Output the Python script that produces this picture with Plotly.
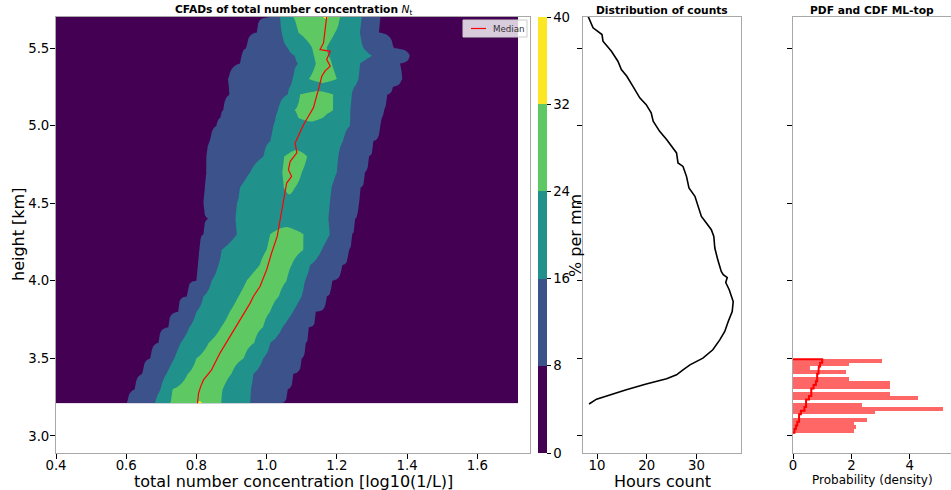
import numpy as np
import plotly.graph_objects as go

# ---------------- data ----------------
# CFAD: per-height boundaries (log10(1/L)) between the filled levels 0-8-16-24-32-40 (% per mm)
cfad_heights = [3.21, 3.3, 3.4, 3.5, 3.6, 3.7, 3.8, 3.9, 4.0, 4.1, 4.2, 4.3, 4.4, 4.5, 4.6,
                4.7, 4.8, 4.9, 5.0, 5.05, 5.1, 5.2, 5.25, 5.3, 5.4, 5.45, 5.5, 5.6, 5.70]
edge_l8 = [0.603, 0.625, 0.647, 0.670, 0.692, 0.720, 0.748, 0.775, 0.800, 0.805, 0.810, 0.820, 0.834,
           0.820, 0.824, 0.829, 0.829, 0.839, 0.858, 0.868, 0.877, 0.895, 0.893, 0.891, 0.924, 0.930,
           0.943, 0.972, 1.010]
edge_l16 = [0.682, 0.698, 0.715, 0.737, 0.755, 0.780, 0.800, 0.820, 0.843, 0.862, 0.872, 0.915, 0.910,
            0.915, 0.924, 0.953, 0.991, 1.010, 1.019, 1.026, 1.033, 1.060, 1.067, 1.075, 1.090, 1.080,
            1.060, 1.043, 1.038]
edge_l24 = [0.725, 0.732, 0.775, 0.800, 0.835, 0.870, 0.895, 0.920, 0.943, 0.980, 1.000, 1.010, None,
            None, 1.050, 1.045, 1.050, None, None, 1.090, 1.080, 1.095, None, 1.120, 1.140, 1.135,
            1.130, 1.090, 1.076]
edge_r24 = [0.870, 0.875, 0.900, 0.935, 0.965, 0.990, 1.010, 1.035, 1.057, 1.071, 1.105, 1.105, None,
            None, 1.080, 1.100, 1.115, None, None, 1.160, 1.190, 1.190, None, 1.200, 1.185, 1.175,
            1.170, 1.195, 1.209]
edge_r16 = [0.953, 0.955, 0.962, 0.990, 1.010, 1.045, 1.075, 1.100, 1.109, 1.124, 1.157, 1.180, 1.176,
            1.180, 1.185, 1.200, 1.204, 1.218, 1.238, 1.238, 1.238, 1.242, 1.250, 1.261, 1.266, 1.300,
            1.276, 1.266, 1.271]
edge_r8 = [1.040, 1.060, 1.075, 1.100, 1.110, 1.120, 1.140, 1.170, 1.185, 1.214, 1.233, 1.242, 1.252,
           1.261, 1.266, 1.280, 1.290, 1.304, 1.323, 1.328, 1.333, 1.342, 1.360, 1.385, 1.380, 1.408,
           1.361, 1.318, 1.323]
yellow_h = [3.21, 5.70]
yellow_x = [0.81, 1.17]
cfad_levels = [0, 8, 16, 24, 32, 40]

# median profile
median_h = [5.705, 5.606, 5.533, 5.490, 5.479, 5.426, 5.383, 5.351, 5.318, 5.254, 5.189, 5.114, 5.060,
            5.006, 4.931, 4.888, 4.824, 4.770, 4.716, 4.673, 4.630, 4.544, 4.458, 4.372, 4.286, 4.179,
            4.071, 3.963, 3.899, 3.856, 3.748, 3.641, 3.534, 3.426, 3.361, 3.318, 3.275, 3.211]
median_x = [1.171, 1.166, 1.162, 1.152, 1.181, 1.171, 1.181, 1.166, 1.157, 1.150, 1.143, 1.133, 1.119,
            1.105, 1.090, 1.081, 1.086, 1.067, 1.062, 1.071, 1.057, 1.050, 1.043, 1.038, 1.030, 1.014,
            1.000, 0.981, 0.962, 0.953, 0.924, 0.896, 0.867, 0.843, 0.820, 0.812, 0.806, 0.803]

# distribution of counts
count_h = [5.705, 5.630, 5.587, 5.544, 5.479, 5.415, 5.361, 5.318, 5.254, 5.179, 5.135, 5.082, 5.028,
           4.963, 4.910, 4.866, 4.824, 4.759, 4.737, 4.673, 4.598, 4.544, 4.490, 4.415, 4.372, 4.329,
           4.286, 4.211, 4.135, 4.060, 4.039, 4.021, 3.989, 3.942, 3.866, 3.802, 3.737, 3.673, 3.619,
           3.555, 3.501, 3.479, 3.458, 3.426, 3.394, 3.368, 3.335, 3.297, 3.258, 3.237, 3.206]
count_v = [8.2, 9.2, 11.0, 11.2, 12.9, 14.2, 14.9, 16.0, 17.2, 18.6, 19.9, 20.9, 21.3,
           22.6, 24.0, 25.0, 26.0, 26.3, 27.3, 28.0, 28.5, 29.7, 30.3, 31.0, 32.0, 33.0,
           33.5, 33.7, 34.3, 35.0, 35.4, 36.2, 35.9, 36.6, 37.4, 37.2, 36.4, 35.7, 34.7,
           33.3, 31.3, 30.0, 28.7, 27.3, 26.0, 24.0, 19.9, 15.9, 11.9, 9.9, 8.4]

# ML-top histogram (density)
ml_edges = [3.021, 3.045, 3.068, 3.092, 3.116, 3.140, 3.163, 3.187, 3.211, 3.234, 3.258,
            3.282, 3.305, 3.329, 3.353, 3.377, 3.400, 3.424, 3.448, 3.471, 3.495]
ml_pdf = [2.09, 2.17, 2.09, 2.52, 0.0, 2.80, 5.14, 2.36, 0.0, 4.28, 3.31, 0.0, 3.31, 3.31, 1.92,
          0.0, 1.83, 0.59, 1.92, 3.06]

# ---------------- layout helpers ----------------
W, H = 951, 490
FONT = "DejaVu Sans"


def fx(p):
    return p / W


def fy(p):
    return 1 - p / H


# ---------------- build CFAD grid ----------------
xgrid = np.arange(0.38, 1.7165, 0.004)
Z = []
for i, h in enumerate(cfad_heights):
    xs = [0.30, edge_l8[i], edge_l16[i]]
    zs = [2, 8, 16]
    if edge_l24[i] is not None:
        if h in yellow_h:
            pk_x, pk_z = yellow_x[yellow_h.index(h)], 33
        else:
            pk_x, pk_z = (edge_l24[i] + edge_r24[i]) / 2, 28
        xs += [edge_l24[i], pk_x, edge_r24[i]]
        zs += [24, pk_z, 24]
    else:
        xs += [(edge_l16[i] + edge_r16[i]) / 2]
        zs += [20]
    xs += [edge_r16[i], edge_r8[i], 1.80]
    zs += [16, 8, 2]
    Z.append(np.interp(xgrid, xs, zs))
Z = np.array(Z)

viridis5 = ["#440154", "#3b528b", "#21918c", "#5ec962", "#fde725"]
cs = []
for k, c in enumerate(viridis5):
    cs.append([k / 5, c])
    cs.append([(k + 1) / 5, c])

fig = go.Figure()

fig.add_trace(go.Contour(
    x=xgrid, y=cfad_heights, z=Z, zmin=0, zmax=40, autocontour=False,
    contours=dict(start=cfad_levels[0], end=cfad_levels[-1], size=8, coloring="fill", showlines=False),
    line=dict(width=0, smoothing=0), colorscale=cs, hoverinfo="skip", showlegend=False,
    colorbar=dict(x=fx(538), xanchor="left", xpad=0, ypad=0, y=(fy(453) + fy(17)) / 2, yanchor="middle",
                  len=(453 - 17) / H, lenmode="fraction", thickness=9, outlinewidth=0,
                  tickvals=cfad_levels, ticks="outside", ticklen=4, tickcolor="black",
                  tickfont=dict(family=FONT, size=13.3, color="black")),
    xaxis="x", yaxis="y"))

fig.add_trace(go.Scatter(x=median_x, y=median_h, mode="lines", name="Median", showlegend=False,
                         line=dict(color="red", width=1.2), xaxis="x", yaxis="y"))

fig.add_trace(go.Scatter(x=count_v, y=count_h, mode="lines", showlegend=False,
                         line=dict(color="black", width=1.6), xaxis="x2", yaxis="y2"))

ml_centers = [(ml_edges[i] + ml_edges[i + 1]) / 2 for i in range(len(ml_pdf))]
ml_width = [ml_edges[i + 1] - ml_edges[i] for i in range(len(ml_pdf))]
fig.add_trace(go.Bar(x=ml_pdf, y=ml_centers, width=ml_width, orientation="h",
                     marker=dict(color="rgba(255,0,0,0.6)", line=dict(width=0)),
                     showlegend=False, xaxis="x3", yaxis="y3"))

mass = np.array(ml_pdf) * np.array(ml_width)
cdf = np.cumsum(mass) / mass.sum()
sx, sy = [0.0], [ml_edges[0]]
for i, c in enumerate(cdf):
    sx += [c, c]
    sy += [ml_edges[i], ml_edges[i + 1]]
sx.append(0.0)
sy.append(ml_edges[-1])
fig.add_trace(go.Scatter(x=sx, y=sy, mode="lines", showlegend=False,
                         line=dict(color="red", width=2), xaxis="x3", yaxis="y3"))

# ---------------- axes ----------------
ydom = [fy(453), fy(17)]
yrange = [2.89, 5.70]
ytick = [3.0, 3.5, 4.0, 4.5, 5.0, 5.5]
tickfont = dict(family=FONT, size=13.3, color="black")
common = dict(showgrid=False, zeroline=False, showline=True, linecolor="#a8a8a8", linewidth=1,
              ticks="outside", ticklen=5, tickwidth=1, tickcolor="black", tickfont=tickfont,
              automargin=False)

fig.update_layout(
    width=W, height=H, margin=dict(l=0, r=0, t=0, b=0, autoexpand=False),
    paper_bgcolor="white", plot_bgcolor="white",
    font=dict(family=FONT, color="black"),
    showlegend=False,
    xaxis=dict(domain=[fx(56), fx(530)], range=[0.4, 1.75], anchor="y", mirror=True,
               tickvals=[0.4, 0.6, 0.8, 1.0, 1.2, 1.4, 1.6], ticklabelstandoff=-5,
               ticktext=["0.4", "0.6", "0.8", "1.0", "1.2", "1.4", "1.6"], **common),
    yaxis=dict(domain=ydom, range=yrange, anchor="x", mirror=True, ticklabelstandoff=-2,
               tickvals=ytick, ticktext=["3.0", "3.5", "4.0", "4.5", "5.0", "5.5"], **common),
    xaxis2=dict(domain=[fx(583), fx(741)], range=[7.18, 38.97], anchor="y2", mirror=True,
                tickvals=[10, 20, 30], ticklabelstandoff=-5, **common),
    yaxis2=dict(domain=ydom, range=yrange, anchor="x2", mirror=True,
                tickvals=ytick, showticklabels=False, **common),
    xaxis3=dict(domain=[fx(793), 1.0], range=[0, 5.41], anchor="y3", mirror=True,
                tickvals=[0, 2, 4], ticklabelstandoff=-5, **common),
    yaxis3=dict(domain=ydom, range=yrange, anchor="x3", mirror=False,
                tickvals=ytick, showticklabels=False, **common),
    bargap=0,
)

# legend box for the median line (drawn in pixel positions of the main panel)
fig.add_shape(type="rect", xref="paper", yref="paper", x0=fx(463), x1=fx(527), y0=fy(37), y1=fy(20),
              fillcolor="rgba(255,255,255,0.8)", line=dict(color="#cccccc", width=1), layer="above")
fig.add_shape(type="line", xref="paper", yref="paper", x0=fx(471), x1=fx(486), y0=fy(28.5), y1=fy(28.5),
              line=dict(color="red", width=1.2), layer="above")

ann = [
    dict(text="<b>CFADs of total number concentration</b> <i>N</i><sub>t</sub>", x=fx(293), y=fy(10),
         font=dict(size=10.7)),
    dict(text="<b>Distribution of counts</b>", x=fx(662), y=fy(10), font=dict(size=10.7)),
    dict(text="<b>PDF and CDF ML-top</b>", x=fx(872), y=fy(10), font=dict(size=10.7)),
    dict(text="total number concentration [log10(1/L)]", x=fx(293), y=fy(481), font=dict(size=16)),
    dict(text="Hours count", x=fx(662), y=fy(481), font=dict(size=16)),
    dict(text="Probability (density)", x=fx(872), y=fy(480), font=dict(size=12)),
    dict(text="height [km]", x=fx(18), y=fy(235), font=dict(size=16), textangle=-90),
    dict(text="% per mm", x=fx(575), y=fy(236), font=dict(size=16), textangle=-90),
]
for a in ann:
    a.update(xref="paper", yref="paper", showarrow=False, xanchor="center", yanchor="middle")
    a["font"] = dict(family=FONT, color="black", **a["font"])
    fig.add_annotation(**a)

fig.add_annotation(text="Median", xref="paper", yref="paper", x=fx(491), y=fy(28.5), showarrow=False,
                   xanchor="left", yanchor="middle", font=dict(family=FONT, size=8.7, color="#333333"))

fig.write_html("out.html")
